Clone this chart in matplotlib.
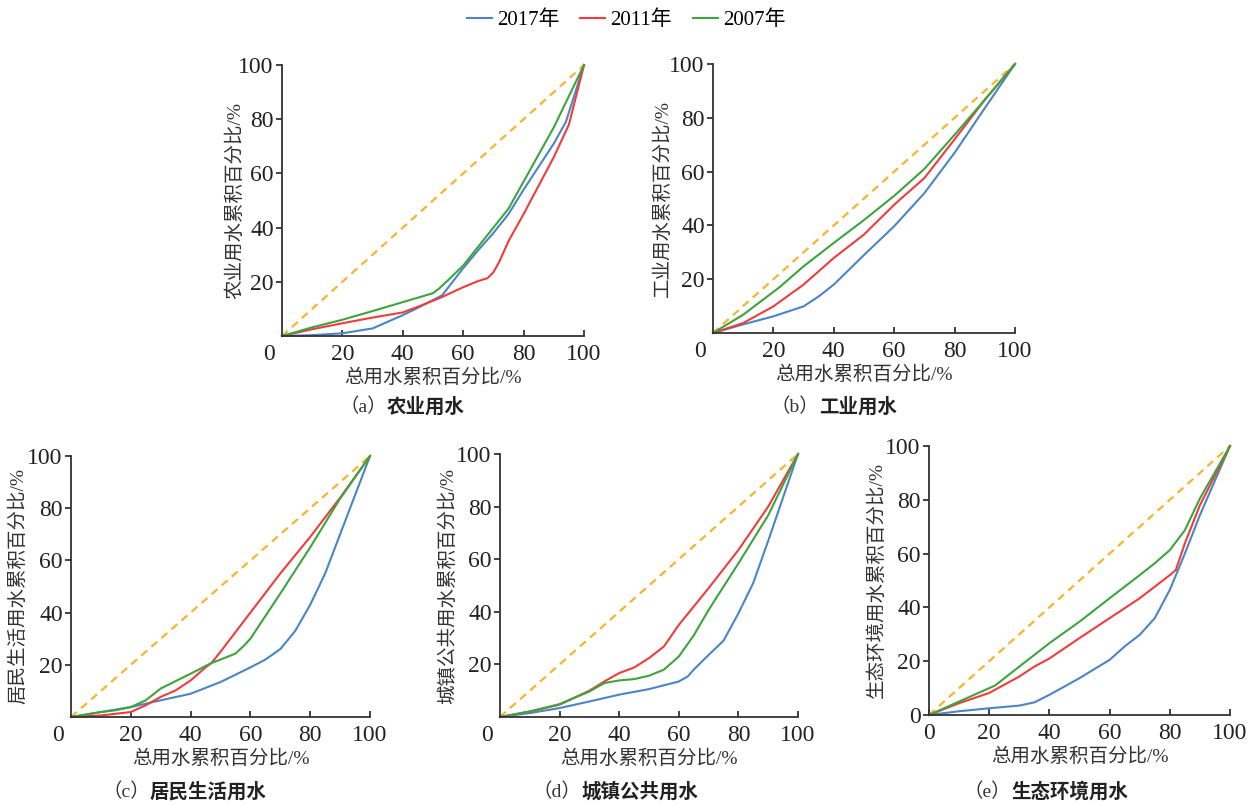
import matplotlib
matplotlib.use("Agg")
import matplotlib.pyplot as plt
from matplotlib import font_manager as fm


def have_font(name):
    try:
        fm.findfont(fm.FontProperties(family=name), fallback_to_default=False)
        return True
    except ValueError:
        return False


serif = next((n for n in ["Liberation Serif", "Times New Roman", "Nimbus Roman",
                          "DejaVu Serif"] if have_font(n)), "serif")
plt.rcParams["font.family"] = [serif, "Noto Sans CJK SC"]
plt.rcParams["axes.unicode_minus"] = False

# Legend / series names
years = ["2017年", "2011年", "2007年"]
colors = ["#4a86c6", "#f03c3c", "#3ca53c"]
diag_color = "#f7b42c"

# (a) 农业用水
a_x17 = [0, 10, 20, 30, 40, 45, 53, 60, 65, 70, 75, 80, 90, 94, 100]
a_y17 = [0, 0.3, 1, 2.8, 7.7, 10.4, 15, 25, 31.7, 38, 45, 54, 71, 79, 100]
a_x11 = [0, 10, 20, 30, 40, 45, 52, 60, 65, 68, 70, 72, 75, 80, 90, 95, 100]
a_y11 = [0, 2.5, 4.7, 6.8, 8.7, 10.8, 13.9, 18, 20.3, 21.3, 23.5, 27.5, 35, 45, 66, 78, 100]
a_x07 = [0, 10, 20, 30, 40, 50, 52, 55, 60, 70, 75, 80, 90, 100]
a_y07 = [0, 3.2, 6, 9.2, 12.5, 15.8, 17.5, 20.6, 26, 40, 47, 57, 77, 100]

# (b) 工业用水
b_x17 = [0, 10, 20, 30, 35, 40, 50, 60, 70, 80, 90, 100]
b_y17 = [0, 3.2, 6.2, 9.9, 13.6, 18, 29, 39.7, 52, 67, 83.6, 100]
b_x11 = [0, 10, 20, 30, 40, 50, 60, 70, 80, 90, 100]
b_y11 = [0, 3.7, 9.9, 18, 27.9, 36.6, 47.7, 57.6, 72, 86.7, 100]
b_x07 = [0, 10, 22, 30, 40, 50, 60, 70, 80, 90, 100]
b_y07 = [0, 6.8, 17, 24.8, 33.5, 42, 51, 61, 73.7, 86.7, 100]

# (c) 居民生活用水
c_x17 = [0, 10, 20, 30, 40, 50, 60, 65, 70, 75, 80, 85, 90, 100]
c_y17 = [0, 1.9, 3.8, 6.4, 8.9, 13.4, 19, 22, 26, 33, 43, 55, 70, 100]
c_x11 = [0, 10, 20, 25, 30, 35, 40, 45, 47, 50, 60, 70, 80, 90, 100]
c_y11 = [0, 0.6, 1.9, 4.5, 7.7, 10.2, 14, 19, 20.7, 25, 40, 55, 69, 84, 100]
c_x07 = [0, 10, 15, 20, 25, 30, 40, 47, 50, 55, 58, 60, 70, 80, 90, 100]
c_y07 = [0, 1.9, 2.6, 3.8, 6.4, 10.9, 16.6, 20.7, 22, 24.3, 27.5, 30, 47.3, 65, 83.7, 100]

# (d) 城镇公共用水
d_x17 = [0, 10, 20, 30, 40, 50, 60, 63, 65, 70, 75, 80, 85, 90, 100]
d_y17 = [0, 1.5, 3.4, 5.9, 8.5, 10.6, 13.5, 15.4, 18, 23.6, 29, 39.4, 51, 67, 100]
d_x11 = [0, 10, 20, 30, 35, 40, 45, 50, 55, 60, 65, 70, 80, 90, 100]
d_y11 = [0, 2.1, 4.7, 10, 13.5, 16.7, 18.8, 22.4, 26.8, 35, 42, 49, 63.5, 80, 100]
d_x07 = [0, 10, 20, 30, 35, 40, 45, 50, 55, 60, 65, 70, 80, 90, 100]
d_y07 = [0, 2.1, 4.9, 9.7, 12.9, 13.9, 14.4, 15.7, 18, 23, 31, 40.7, 58.4, 76.7, 100]

# (e) 生态环境用水
e_x17 = [0, 10, 20, 30, 35, 40, 50, 60, 65, 70, 75, 80, 85, 90, 100]
e_y17 = [0, 1.4, 2.5, 3.5, 4.7, 7.5, 13.7, 20.5, 25.5, 29.8, 36, 46.5, 60, 74.3, 100]
e_x11 = [0, 10, 20, 30, 35, 40, 50, 60, 70, 80, 82, 85, 90, 100]
e_y11 = [0, 4.4, 8.2, 14.3, 18, 21, 28.6, 36, 43.4, 52, 53.9, 63.8, 78, 100]
e_x07 = [0, 10, 20, 22, 30, 40, 50, 60, 70, 75, 80, 85, 90, 100]
e_y07 = [0, 5, 10, 11, 18, 26.7, 34.7, 43.4, 52, 56.4, 61.3, 68.7, 80.5, 100]

panels = [
    ("（a）", "农业用水", "农业用水累积百分比/%",
     [(a_x17, a_y17), (a_x11, a_y11), (a_x07, a_y07)]),
    ("（b）", "工业用水", "工业用水累积百分比/%",
     [(b_x17, b_y17), (b_x11, b_y11), (b_x07, b_y07)]),
    ("（c）", "居民生活用水", "居民生活用水累积百分比/%",
     [(c_x17, c_y17), (c_x11, c_y11), (c_x07, c_y07)]),
    ("（d）", "城镇公共用水", "城镇公共用水累积百分比/%",
     [(d_x17, d_y17), (d_x11, d_y11), (d_x07, d_y07)]),
    ("（e）", "生态环境用水", "生态环境用水累积百分比/%",
     [(e_x17, e_y17), (e_x11, e_y11), (e_x07, e_y07)]),
]

ticks = [20, 40, 60, 80, 100]
ticks_e = [0, 20, 40, 60, 80, 100]

W, H = 1258, 805
# axes boxes in pixels: left, top, right, bottom
boxes = [(282, 65, 584, 336), (713, 64, 1015, 333),
         (71, 456, 370, 717), (500, 454, 798, 717), (929, 446, 1230, 715)]
ylab_off = [-0.156, -0.166, -0.177, -0.174, -0.173]
cap_split = [(387, 407), (819, 407), (150, 792), (581, 792), (1011, 792)]

fig = plt.figure(figsize=(W / 100, H / 100), dpi=100)

handles = []
for i, (tag, name, ylab, series) in enumerate(panels):
    l, t, r, b = boxes[i]
    ax = fig.add_axes([l / W, (H - b) / H, (r - l) / W, (b - t) / H])
    ax.plot([0, 100], [0, 100], color=diag_color, lw=1.6, ls=(0, (3.5, 2.5)),
            clip_on=False)
    for (xs, ys), c, lab in zip(series, colors, years):
        ln, = ax.plot(xs, ys, color=c, lw=1.5, label=lab, clip_on=False)
        if i == 0:
            handles.append(ln)
    ax.set_xlim(0, 100)
    ax.set_ylim(0, 100)
    for s in ["top", "right"]:
        ax.spines[s].set_visible(False)
    for s in ["left", "bottom"]:
        ax.spines[s].set_linewidth(1.3)
        ax.spines[s].set_color("#333333")
    if i == 4:
        ax.set_xticks(ticks_e)
        ax.set_yticks(ticks_e)
    else:
        ax.set_xticks(ticks)
        ax.set_yticks(ticks)
        ax.annotate("0", xy=(0, 0), xytext=(-9.5, -13.5),
                    textcoords="offset points", ha="center", va="center",
                    fontsize=17, color="#222222", annotation_clip=False)
    ax.tick_params(axis="x", direction="in", length=4, width=1.3,
                   color="#333333", pad=6, labelsize=17, labelcolor="#222222")
    ax.tick_params(axis="y", direction="out", length=4, width=1.3,
                   color="#333333", pad=2, labelsize=17, labelcolor="#222222")
    ax.set_xlabel("总用水累积百分比/%", fontsize=14, color="#333333", va="center")
    ax.xaxis.set_label_coords(0.5, -42 / (b - t))
    ax.set_ylabel(ylab, fontsize=14, color="#333333", va="center")
    ax.yaxis.set_label_coords(ylab_off[i], 0.5)

    sx, sy = cap_split[i]
    fig.text(sx / W, 1 - sy / H, tag, ha="right", va="center", fontsize=14,
             color="#333333")
    fig.text(sx / W, 1 - sy / H, name, ha="left", va="center", fontsize=14,
             fontweight="bold", color="#222222", family=["Noto Sans CJK SC"])

fig.legend(handles=handles, labels=years, loc="center", ncol=3,
           bbox_to_anchor=(626 / W, 1 - 20 / H), frameon=False, fontsize=15,
           handlelength=1.2, handletextpad=0.25, columnspacing=1.0)

fig.savefig("out.png", dpi=100)
